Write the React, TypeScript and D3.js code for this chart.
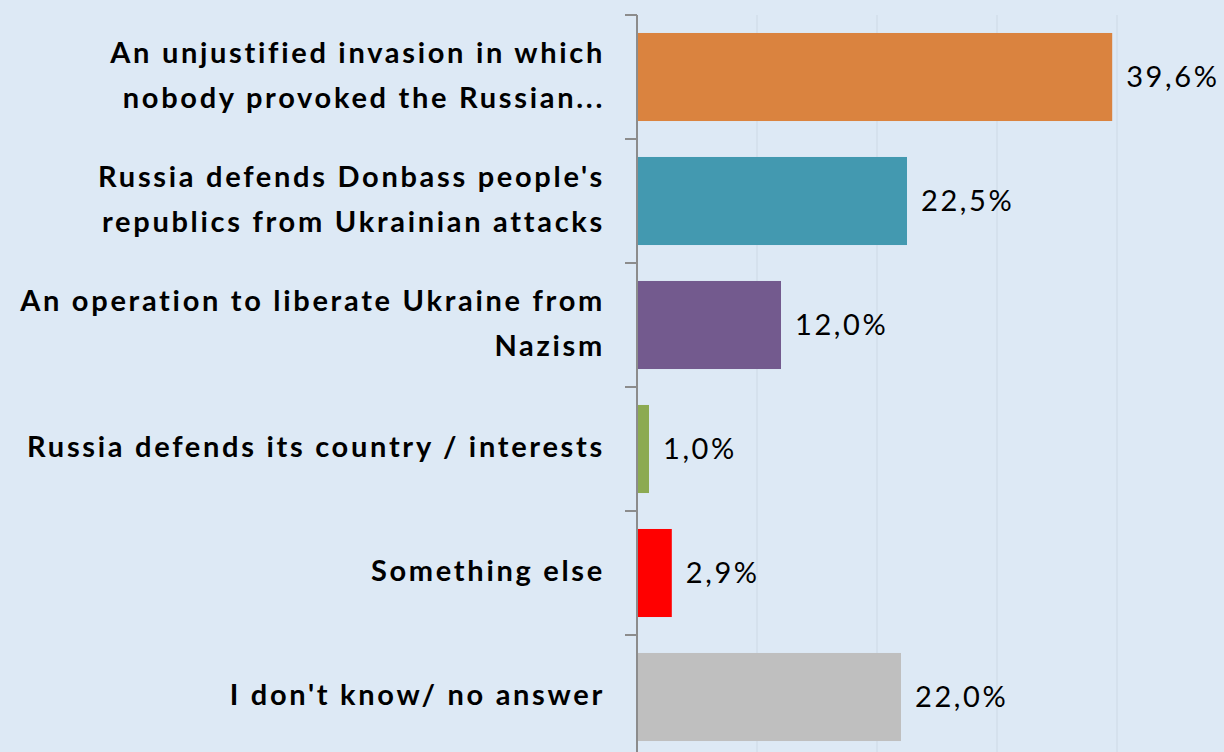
import React from "react";
import * as d3 from "d3";

const categories: string[][] = [
  ["An unjustified invasion in which", "nobody provoked the Russian..."],
  ["Russia defends Donbass people's", "republics from Ukrainian attacks"],
  ["An operation to liberate Ukraine from", "Nazism"],
  ["Russia defends its country / interests"],
  ["Something else"],
  ["I don't know/ no answer"],
];
const values: number[] = [39.6, 22.5, 12.0, 1.0, 2.9, 22.0];
const colors: string[] = ["#DA833F", "#4399B0", "#735A8E", "#8CAA52", "#FF0000", "#BFBFBF"];
const gridTicks: number[] = [10, 20, 30, 40];

export default function App() {
  const W = 1224, H = 752;
  const x0 = 637;
  const x = d3.scaleLinear().domain([0, 50]).range([x0, x0 + 600]);
  const y = d3.scaleBand<number>().domain(d3.range(categories.length)).range([15, 15 + 124 * 6]).paddingInner(0.29).paddingOuter(0.145);
  const step = y.step();
  const font = "Lato, 'Open Sans', sans-serif";
  return (
    <svg width={W} height={H} style={{ position: "absolute", left: 0, top: 0, background: "#DDE9F5" }}>
      <rect x={0} y={0} width={W} height={H} fill="#DDE9F5" />
      {gridTicks.map((t) => (
        <line key={t} x1={x(t)} x2={x(t)} y1={15} y2={H} stroke="#D2DEEA" strokeWidth={1.5} />
      ))}
      {values.map((v, i) => (
        <rect key={i} x={x(0)} y={y(i)!} width={x(v) - x(0)} height={y.bandwidth()} fill={colors[i]} />
      ))}
      <line x1={x0} x2={x0} y1={15} y2={H} stroke="#8C8C8C" strokeWidth={2} />
      {d3.range(categories.length + 1).map((i) => (
        <line key={i} x1={x0 - 12} x2={x0} y1={15 + i * step} y2={15 + i * step} stroke="#8C8C8C" strokeWidth={2} />
      ))}
      {categories.map((lines, i) => {
        const cy = y(i)! + y.bandwidth() / 2;
        const lh = 45;
        const start = cy - ((lines.length - 1) * lh) / 2 - 2;
        return (
          <text key={i} textAnchor="end" fontFamily={font} fontWeight="bold" fontSize={29} letterSpacing={2.7} fill="#000">
            {lines.map((l, j) => (
              <tspan key={j} x={605} y={start + j * lh} dy="0.35em">{l}</tspan>
            ))}
          </text>
        );
      })}
      {values.map((v, i) => (
        <text key={i} x={x(v) + 14} y={y(i)! + y.bandwidth() / 2} dy="0.35em" fontFamily={font} fontSize={29} letterSpacing={2.6} fill="#000">
          {v.toFixed(1).replace(".", ",") + "%"}
        </text>
      ))}
    </svg>
  );
}
